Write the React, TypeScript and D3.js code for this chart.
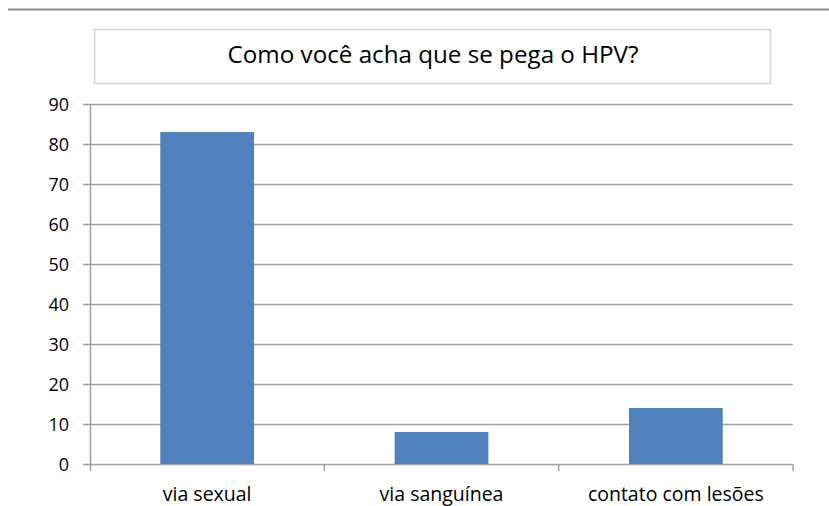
import React from "react";
import * as d3 from "d3";

const categories = ["via sexual", "via sanguínea", "contato com lesões"];
const values = [83, 8, 14];
const yTicks = [0, 10, 20, 30, 40, 50, 60, 70, 80, 90];
const title = "Como você acha que se pega o HPV?";

const W = 829;
const H = 506;
const FONT = "'Open Sans', 'Liberation Sans', sans-serif";

export default function App() {
  const left = 90;
  const right = 793;
  const top = 104;
  const bottom = 464;

  const x = d3.scaleBand<string>().domain(categories).range([left, right]).paddingInner(0).paddingOuter(0);
  const y = d3.scaleLinear().domain([0, 90]).range([bottom, top]);
  const bw = x.bandwidth() / 2.5;

  const boundaries = d3.range(categories.length + 1).map((i) => left + i * x.step());

  return (
    <svg
      width={W}
      height={H}
      style={{ position: "absolute", left: 0, top: 0, background: "#fff" }}
      fontFamily={FONT}
    >
      <rect x={0} y={0} width={W} height={H} fill="#fff" />
      <line x1={8} x2={W} y1={9.5} y2={9.5} stroke="#8c8c8c" strokeWidth={2} />
      <rect x={94.5} y={29.5} width={676} height={54} fill="#fff" stroke="#d4d4d4" strokeWidth={1.5} />
      <text x={433} y={63} textAnchor="middle" fontSize={24.2} fill="#000">
        {title}
      </text>

      {yTicks.map((t) => (
        <g key={t}>
          <line x1={83} x2={right} y1={Math.round(y(t)) + 0.5} y2={Math.round(y(t)) + 0.5} stroke="#a0a0a0" strokeWidth={1.5} />
          <text x={69} y={y(t) + 7} textAnchor="end" fontSize={18} fill="#000">
            {t}
          </text>
        </g>
      ))}

      {categories.map((c, i) => (
        <rect
          key={c}
          x={(x(c) as number) + (x.bandwidth() - bw) / 2}
          y={y(values[i])}
          width={bw}
          height={bottom - y(values[i])}
          fill="#4f81bd"
        />
      ))}

      <line x1={left + 0.5} x2={left + 0.5} y1={top} y2={bottom + 7} stroke="#a0a0a0" strokeWidth={1.5} />
      {boundaries.slice(1).map((b, i) => (
        <line key={i} x1={b} x2={b} y1={bottom} y2={bottom + 7} stroke="#a0a0a0" strokeWidth={1.5} />
      ))}

      {categories.map((c) => (
        <text key={c} x={(x(c) as number) + x.bandwidth() / 2} y={501} textAnchor="middle" fontSize={19.5} fill="#000">
          {c}
        </text>
      ))}
    </svg>
  );
}
